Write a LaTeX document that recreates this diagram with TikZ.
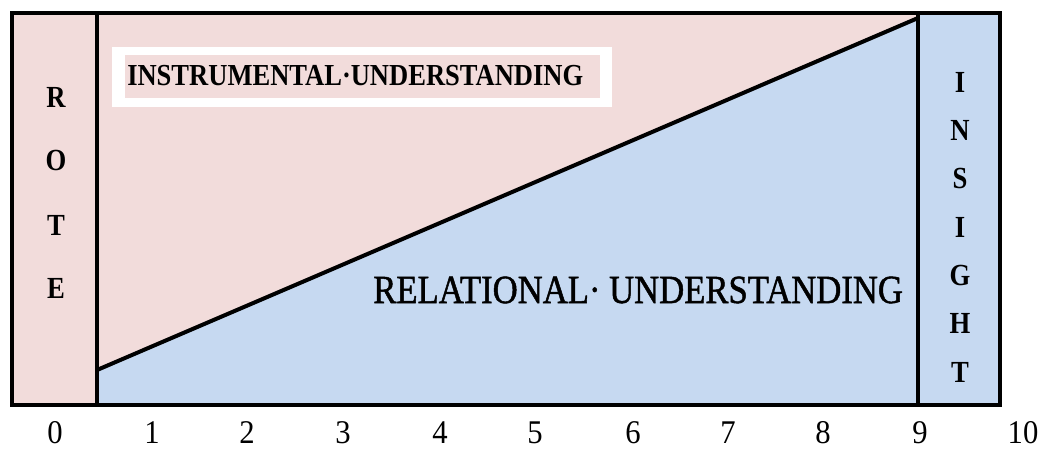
\documentclass[tikz,border=0pt]{standalone}
\usepackage{fontspec}
\setmainfont{Liberation Serif}
\newfontfamily\heavyserif[FakeBold=1.3]{Liberation Serif}
\definecolor{pinkc}{HTML}{F2DCDB}
\definecolor{bluec}{HTML}{C6D9F1}
\newcommand{\tallify}[2][1.15]{\scalebox{1}[#1]{#2}}
\begin{document}
\begin{tikzpicture}[x=0.75pt,y=-0.75pt,
  frame/.style={line width=3.6pt, line join=miter},
  divider/.style={line width=3pt},
  diagline/.style={line width=3pt, line cap=round},
  sideletter/.style={font=\fontsize{20}{20}\selectfont\bfseries, inner sep=0pt},
  ticklabel/.style={font=\fontsize{23}{23}\selectfont, inner sep=0pt, anchor=base},
  titletext/.style={font=\fontsize{19.9}{20}\selectfont\bfseries, inner sep=0pt, anchor=west},
  bigtext/.style={font=\fontsize{26}{26}\selectfont\heavyserif, inner sep=0pt, anchor=west}]
\useasboundingbox (0,0) rectangle (1043,450);
% key points
\coordinate (TL) at (12,13);
\coordinate (BR) at (1000,405);
\coordinate (LT) at (97,13);
\coordinate (LB) at (97,405);
\coordinate (RT) at (918,13);
\coordinate (RB) at (918,405);
\coordinate (D1) at (97,370);
\coordinate (D2) at (918,18);
% fills
\fill[pinkc] (TL) rectangle (BR);
\fill[bluec] (RT) rectangle (BR);
\fill[bluec] (D1) -- (D2) -- (RB) -- (LB) -- cycle;
% title box
\fill[white] (112,47) rectangle (612,107);
\fill[pinkc] (125,55) rectangle (600,98);
\node[titletext] (instr) at (127,76) {\tallify{INSTRUMENTAL·UNDERSTANDING}};
\node[bigtext] (relat) at (373,290) {\tallify{RELATIONAL· UNDERSTANDING}};
% lines
\draw[diagline] (D1) -- (D2);
\draw[divider] (LT) -- (LB);
\draw[divider] (RT) -- (RB);
\draw[frame] (TL) rectangle (BR);
% ROTE
\node[sideletter] (r1) at (56,97) {\tallify{R}};
\node[sideletter] (r2) at (56,160) {\tallify{O}};
\node[sideletter] (r3) at (56,225) {\tallify{T}};
\node[sideletter] (r4) at (56,288) {\tallify{E}};
% INSIGHT
\node[sideletter] (i1) at (960,82) {\tallify{I}};
\node[sideletter] (i2) at (960,130) {\tallify{N}};
\node[sideletter] (i3) at (960,178) {\tallify{S}};
\node[sideletter] (i4) at (960,227) {\tallify{I}};
\node[sideletter] (i5) at (960,275) {\tallify{G}};
\node[sideletter] (i6) at (960,323) {\tallify{H}};
\node[sideletter] (i7) at (960,372) {\tallify{T}};
% scale
\foreach \n/\xx in {0/55,1/152,2/247,3/343,4/440,5/535,6/633,7/728,8/823,9/920,10/1023}
  \node[ticklabel] (t\n) at (\xx,443) {\tallify[1.08]{\n}};
\end{tikzpicture}
\end{document}
